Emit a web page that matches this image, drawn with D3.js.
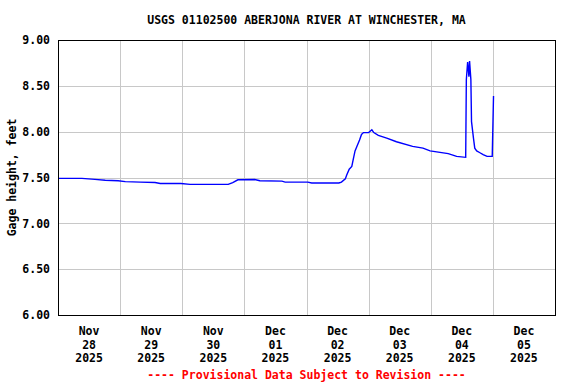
<!DOCTYPE html>
<html>
<head>
<meta charset="utf-8">
<script src="https://cdn.jsdelivr.net/npm/d3@7"></script>
<style>
  body { margin: 0; background: #fff; }
  text { font-family: "DejaVu Sans Mono", monospace; font-weight: bold; font-size: 11.5px; }
</style>
</head>
<body>
<div class="gage"></div>
<script>
// readings (local time) and gage height in feet
let times = [
  "2025-11-28 00:00", "2025-11-28 09:15", "2025-11-28 14:15", "2025-11-28 18:15", "2025-11-28 23:15",
  "2025-11-29 02:00", "2025-11-29 07:45", "2025-11-29 13:30", "2025-11-29 15:30", "2025-11-29 23:30",
  "2025-11-30 03:00", "2025-11-30 17:45", "2025-11-30 19:30", "2025-11-30 21:30",
  "2025-12-01 04:00", "2025-12-01 06:00", "2025-12-01 14:30", "2025-12-01 15:45",
  "2025-12-02 00:30", "2025-12-02 02:00", "2025-12-02 12:30", "2025-12-02 13:30", "2025-12-02 15:00",
  "2025-12-02 15:30", "2025-12-02 16:30", "2025-12-02 17:30", "2025-12-02 18:00", "2025-12-02 18:45",
  "2025-12-02 19:30", "2025-12-02 20:30", "2025-12-02 21:15", "2025-12-02 22:00",
  "2025-12-03 00:00", "2025-12-03 01:15", "2025-12-03 02:00", "2025-12-03 03:45", "2025-12-03 07:00",
  "2025-12-03 10:45", "2025-12-03 17:00", "2025-12-03 21:00", "2025-12-03 23:45",
  "2025-12-04 06:45", "2025-12-04 10:00", "2025-12-04 13:30", "2025-12-04 13:45", "2025-12-04 14:15",
  "2025-12-04 14:45", "2025-12-04 15:00", "2025-12-04 15:30", "2025-12-04 15:45", "2025-12-04 16:30",
  "2025-12-04 17:00", "2025-12-04 17:45", "2025-12-04 19:00", "2025-12-04 20:15", "2025-12-04 21:45",
  "2025-12-04 23:45", "2025-12-05 00:15"
]
let heights = [
  7.49, 7.49, 7.48, 7.47, 7.465,
  7.455, 7.45, 7.445, 7.435, 7.435,
  7.425, 7.425, 7.445, 7.475,
  7.478, 7.465, 7.46, 7.45,
  7.45, 7.44, 7.44, 7.45, 7.485,
  7.525, 7.59, 7.62, 7.69, 7.79,
  7.84, 7.91, 7.97, 7.99,
  7.99, 8.02, 7.99, 7.96, 7.93,
  7.89, 7.84, 7.82, 7.79,
  7.76, 7.73, 7.72, 8.57, 8.76,
  8.60, 8.77, 8.57, 8.11, 7.93,
  7.82, 7.79, 7.77, 7.75, 7.73,
  7.73, 8.39
]

let yTicks = [6.0, 6.5, 7.0, 7.5, 8.0, 8.5, 9.0]
let dayTicks = ["2025-11-28", "2025-11-29", "2025-11-30", "2025-12-01", "2025-12-02", "2025-12-03", "2025-12-04", "2025-12-05"]
let dayLabels = [
  ["Nov", "28", "2025"], ["Nov", "29", "2025"], ["Nov", "30", "2025"], ["Dec", "01", "2025"],
  ["Dec", "02", "2025"], ["Dec", "03", "2025"], ["Dec", "04", "2025"], ["Dec", "05", "2025"]
]

const width = 576
const height = 384
const padLeft = 58, padRight = 555, padTop = 40, padBottom = 315

let parseTime = d3.timeParse("%Y-%m-%d %H:%M")
let parseDay = d3.timeParse("%Y-%m-%d")
let data = times.map((t, i) => ({ t: parseTime(t), v: heights[i] }))

let days = dayTicks.map(parseDay)
let endDay = d3.timeDay.offset(days[days.length - 1], 1)

let scaleX = d3.scaleTime()
  .domain([days[0], endDay])
  .range([padLeft, padRight])
let scaleY = d3.scaleLinear()
  .domain([6, 9])
  .range([padBottom, padTop])

let svg = d3.select(".gage")
  .append("svg")
  .attr("width", width)
  .attr("height", height)

// title
svg.append("text")
  .attr("x", (padLeft + padRight) / 2)
  .attr("y", 24)
  .attr("text-anchor", "middle")
  .text("USGS 01102500 ABERJONA RIVER AT WINCHESTER, MA")

// grid lines
svg.append("g")
  .selectAll("line")
  .data(yTicks.slice(1, -1))
  .enter()
  .append("line")
  .attr("x1", padLeft).attr("x2", padRight)
  .attr("y1", d => Math.round(scaleY(d)) + 0.5).attr("y2", d => Math.round(scaleY(d)) + 0.5)
  .attr("stroke", "#c8c8c8")

svg.append("g")
  .selectAll("line")
  .data(days.slice(1))
  .enter()
  .append("line")
  .attr("x1", d => Math.round(scaleX(d)) + 0.5).attr("x2", d => Math.round(scaleX(d)) + 0.5)
  .attr("y1", padTop).attr("y2", padBottom)
  .attr("stroke", "#c8c8c8")

// y axis labels
let yAxis = d3.axisLeft(scaleY)
  .tickValues(yTicks)
  .tickFormat(d3.format(".2f"))
  .tickSize(0)
  .tickPadding(8)
let gy = svg.append("g")
  .attr("transform", "translate(" + padLeft + ",0)")
  .call(yAxis)
gy.select(".domain").remove()
gy.selectAll("text").attr("fill", "#000").style("font-size", "11.5px").style("font-family", "DejaVu Sans Mono").style("font-weight", "bold")

svg.append("text")
  .attr("transform", "translate(16," + ((padTop + padBottom) / 2) + ") rotate(-90)")
  .attr("text-anchor", "middle")
  .text("Gage height, feet")

// x axis labels, centred at noon of each day
let xLab = svg.append("g")
  .selectAll("text")
  .data(days)
  .enter()
  .append("text")
  .attr("text-anchor", "middle")
  .attr("x", d => scaleX(d3.timeHour.offset(d, 12)))
  .attr("y", 335)
xLab.selectAll("tspan")
  .data((d, i) => dayLabels[i])
  .enter()
  .append("tspan")
  .attr("x", function () { return this.parentNode.getAttribute("x") })
  .attr("dy", (d, i) => i == 0 ? 0 : 13.5)
  .text(d => d)

// the gage line
let line = d3.line()
  .x(d => scaleX(d.t))
  .y(d => scaleY(d.v))
svg.append("path")
  .datum(data)
  .attr("d", line)
  .attr("fill", "none")
  .attr("stroke", "#0000ff")
  .attr("stroke-width", 1.4)

// frame
svg.append("rect")
  .attr("x", padLeft + 0.5).attr("y", padTop + 0.5)
  .attr("width", padRight - padLeft).attr("height", padBottom - padTop)
  .attr("fill", "none")
  .attr("stroke", "#000")

svg.append("text")
  .attr("x", (padLeft + padRight) / 2)
  .attr("y", 379)
  .attr("text-anchor", "middle")
  .attr("fill", "#ff0000")
  .text("---- Provisional Data Subject to Revision ----")
</script>
</body>
</html>
